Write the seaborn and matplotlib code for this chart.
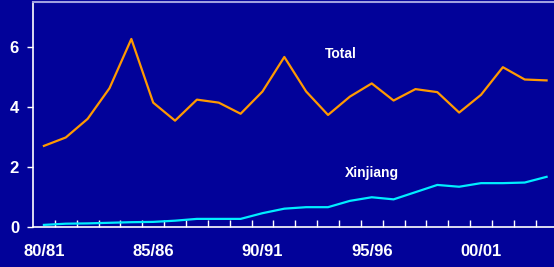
import matplotlib
matplotlib.use('Agg')
import matplotlib.pyplot as plt
import seaborn as sb
import pandas as pd

seasons = ['80/81', '81/82', '82/83', '83/84', '84/85', '85/86', '86/87', '87/88',
           '88/89', '89/90', '90/91', '91/92', '92/93', '93/94', '94/95', '95/96',
           '96/97', '97/98', '98/99', '99/00', '00/01', '01/02', '02/03', '03/04']
total = [2.71, 2.99, 3.61, 4.63, 6.27, 4.15, 3.55, 4.25, 4.15, 3.78, 4.52, 5.67,
         4.52, 3.74, 4.35, 4.79, 4.22, 4.60, 4.50, 3.82, 4.41, 5.33, 4.92, 4.89]
xinjiang = [0.08, 0.12, 0.13, 0.15, 0.17, 0.18, 0.22, 0.28, 0.28, 0.28, 0.47, 0.62,
            0.67, 0.67, 0.88, 1.00, 0.93, 1.17, 1.41, 1.35, 1.47, 1.47, 1.49, 1.68]
label_seasons = ['80/81', '85/86', '90/91', '95/96', '00/01']

bg = '#020299'
font = ['Liberation Sans', 'DejaVu Sans']

df = pd.DataFrame({'idx': range(len(seasons)), 'Total': total, 'Xinjiang': xinjiang})

fig = plt.figure(figsize=(5.54, 2.67), dpi=100, facecolor=bg)
ax = fig.add_axes([33 / 554, 0.1487, 521 / 554, 0.8438])
ax.set_facecolor(bg)

sb.lineplot(data=df, x='idx', y='Total', ax=ax, color='#ff9900', linewidth=1.6)
sb.lineplot(data=df, x='idx', y='Xinjiang', ax=ax, color='#00eeff', linewidth=1.6)

ax.set_xlim(-0.5, 23.34)
ax.set_ylim(0, 7.5)

# category boundary ticks (no labels), labels at every 5th season
ax.set_xticks([i + 0.5 for i in range(len(seasons) - 1)])
ax.set_xticklabels([])
ax.tick_params(axis='x', which='major', direction='in', length=5, width=1, color='white')
ax.set_xticks([seasons.index(s) for s in label_seasons], minor=True)
ax.set_xticklabels(label_seasons, minor=True)
ax.tick_params(axis='x', which='minor', length=0, pad=12, labelsize=12, labelcolor='white')

ax.set_yticks([0, 2, 4, 6])
ax.tick_params(axis='y', direction='out', length=4, width=1, color='white',
               labelsize=12, labelcolor='white', pad=6)
for lab in ax.get_xticklabels(minor=True) + ax.get_yticklabels():
    lab.set_fontweight('bold')
    lab.set_family(font)

ax.set_xlabel('')
ax.set_ylabel('')

for side in ['left', 'bottom']:
    ax.spines[side].set_color('white')
    ax.spines[side].set_linewidth(1.2)
ax.spines['right'].set_visible(False)
ax.spines['top'].set_color('#a0a0e0')
ax.spines['top'].set_linewidth(1.5)

ax.text(13.6, 5.77, 'Total', color='white', fontsize=10, fontweight='bold',
        family=font, ha='center', va='center')
ax.text(15.0, 1.81, 'Xinjiang', color='white', fontsize=10, fontweight='bold',
        family=font, ha='center', va='center')

fig.savefig('out.png', dpi=100, facecolor=bg)
